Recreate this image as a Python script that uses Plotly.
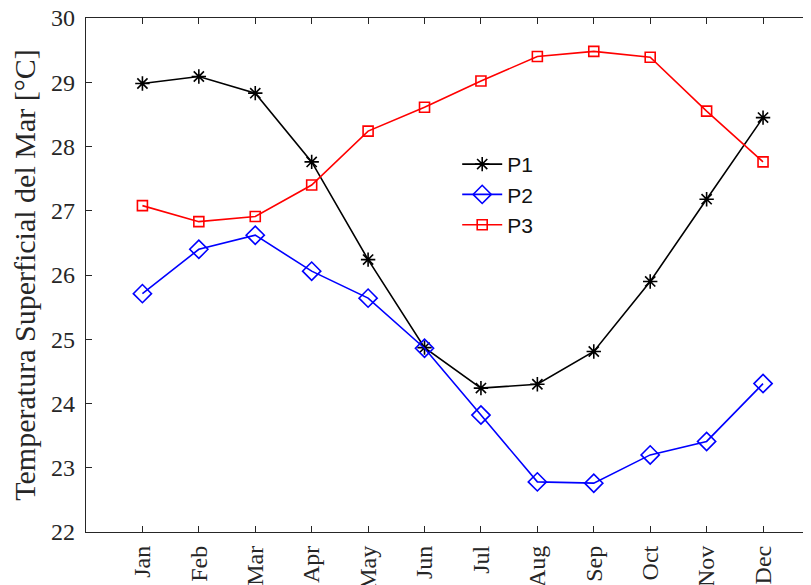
import plotly.graph_objects as go

months = ["Jan", "Feb", "Mar", "Apr", "May", "Jun", "Jul", "Aug", "Sep", "Oct", "Nov", "Dec"]
month_pos = [1, 2, 3, 4, 5, 6, 7, 8, 9, 10, 11, 12]
p1 = [28.98, 29.09, 28.83, 27.76, 26.24, 24.87, 24.24, 24.30, 24.81, 25.90, 27.18, 28.45]
p2 = [25.71, 26.40, 26.62, 26.06, 25.64, 24.86, 23.82, 22.78, 22.76, 23.20, 23.41, 24.31]
p3 = [27.08, 26.83, 26.91, 27.40, 28.24, 28.61, 29.02, 29.40, 29.48, 29.39, 28.55, 27.76]
y_ticks = [22, 23, 24, 25, 26, 27, 28, 29, 30]

fig = go.Figure()
fig.add_trace(go.Scatter(x=month_pos, y=p1, name="P1", mode="lines+markers",
                         line=dict(color="black", width=1.6),
                         marker=dict(symbol="asterisk-open", size=12, color="black",
                                     line=dict(color="black", width=1.6))))
fig.add_trace(go.Scatter(x=month_pos, y=p2, name="P2", mode="lines+markers",
                         line=dict(color="#0000ff", width=1.6),
                         marker=dict(symbol="diamond-open", size=14, color="#0000ff",
                                     line=dict(color="#0000ff", width=1.6))))
fig.add_trace(go.Scatter(x=month_pos, y=p3, name="P3", mode="lines+markers",
                         line=dict(color="#ff0000", width=1.6),
                         marker=dict(symbol="square-open", size=10, color="#ff0000",
                                     line=dict(color="#ff0000", width=1.6))))

serif = "Times New Roman, Liberation Serif, serif"
axis_font = dict(family=serif, size=24, color="#262626")
# page body has an 8px default margin, so the figure is sized/offset to compensate
fig.update_layout(
    width=803, height=577,
    margin=dict(l=78, r=0, t=10, b=53),
    paper_bgcolor="white", plot_bgcolor="white",
    showlegend=True,
    legend=dict(x=0.512, y=0.755, xanchor="left", yanchor="top",
                font=dict(family="Arial, Liberation Sans, sans-serif", size=21, color="#111111"),
                bgcolor="rgba(255,255,255,0)", borderwidth=0,
                tracegroupgap=0, itemwidth=40),
    xaxis=dict(range=[0, 12.85], tickmode="array", tickvals=month_pos, ticktext=months,
               tickangle=-90, ticks="inside", ticklen=6, tickwidth=1.3, tickcolor="#262626",
               showline=True, linecolor="#262626", linewidth=1.3, mirror="ticks",
               showgrid=False, zeroline=False, tickfont=axis_font, automargin=False,
               ticklabelstandoff=3, ticklabeloverflow="allow"),
    yaxis=dict(range=[22, 30], tickmode="array", tickvals=y_ticks,
               ticks="inside", ticklen=6, tickwidth=1.3, tickcolor="#262626",
               showline=True, linecolor="#262626", linewidth=1.3,
               showgrid=False, zeroline=False, tickfont=axis_font, automargin=False,
               ticklabelstandoff=5, ticklabeloverflow="allow",
               title=dict(text="Temperatura Superficial del Mar [°C]",
                          font=dict(family=serif, size=30, color="#262626"),
                          standoff=8)),
)
fig.write_html("out.html")
